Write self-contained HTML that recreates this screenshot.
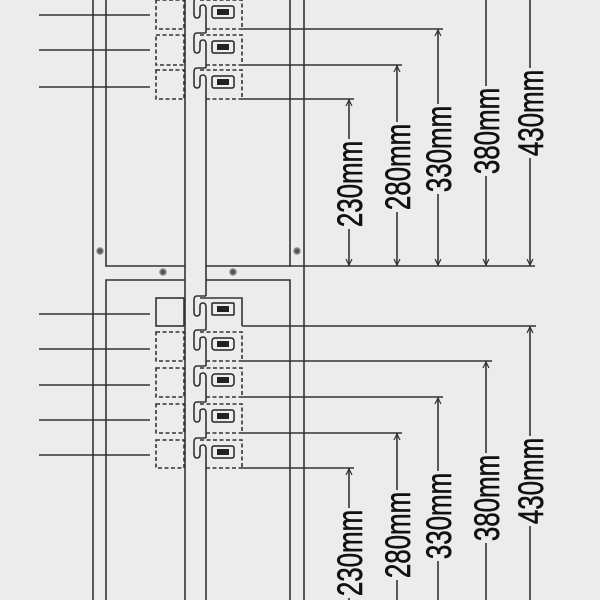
<!DOCTYPE html>
<html><head><meta charset="utf-8"><style>
html,body{margin:0;padding:0;background:#ececec;}
svg{display:block}
text{font-family:"Liberation Sans",sans-serif;font-size:35px;fill:#111;stroke:#111;stroke-width:0.6}
</style></head><body>
<svg width="600" height="600" viewBox="0 0 600 600" xmlns="http://www.w3.org/2000/svg">
<rect width="600" height="600" fill="#ececec"/>
<g stroke="#333" stroke-width="1.6" fill="none">
<line x1="93" y1="0" x2="93" y2="600"/>
<line x1="304" y1="0" x2="304" y2="600"/>
<line x1="185" y1="0" x2="185" y2="600"/>
<path d="M106,0 V266 H185"/>
<path d="M206,266 H290 V0"/>
<path d="M185,280 H106 V600"/>
<path d="M206,280 H290 V600"/>
<line x1="206" y1="9" x2="206" y2="33"/>
<line x1="206" y1="44" x2="206" y2="68"/>
<line x1="206" y1="79" x2="206" y2="296"/>
<line x1="206" y1="307" x2="206" y2="330"/>
<line x1="206" y1="341" x2="206" y2="366"/>
<line x1="206" y1="377" x2="206" y2="402"/>
<line x1="206" y1="413" x2="206" y2="438"/>
<line x1="206" y1="449" x2="206" y2="600"/>
<path d="M206,-2 L197,-2 Q194,-2 194,2 L194,14 Q194,18 197,18 Q200,18 200,14 L200,8 Q200,5 203,5 Q206,5 206,9"/>
<path d="M206,33 L197,33 Q194,33 194,37 L194,49 Q194,53 197,53 Q200,53 200,49 L200,43 Q200,40 203,40 Q206,40 206,44"/>
<path d="M206,68 L197,68 Q194,68 194,72 L194,84 Q194,88 197,88 Q200,88 200,84 L200,78 Q200,75 203,75 Q206,75 206,79"/>
<path d="M206,296 L197,296 Q194,296 194,300 L194,312 Q194,316 197,316 Q200,316 200,312 L200,306 Q200,303 203,303 Q206,303 206,307"/>
<path d="M206,330 L197,330 Q194,330 194,334 L194,346 Q194,350 197,350 Q200,350 200,346 L200,340 Q200,337 203,337 Q206,337 206,341"/>
<path d="M206,366 L197,366 Q194,366 194,370 L194,382 Q194,386 197,386 Q200,386 200,382 L200,376 Q200,373 203,373 Q206,373 206,377"/>
<path d="M206,402 L197,402 Q194,402 194,406 L194,418 Q194,422 197,422 Q200,422 200,418 L200,412 Q200,409 203,409 Q206,409 206,413"/>
<path d="M206,438 L197,438 Q194,438 194,442 L194,454 Q194,458 197,458 Q200,458 200,454 L200,448 Q200,445 203,445 Q206,445 206,449"/>
<line x1="39" y1="15" x2="150" y2="15"/>
<line x1="39" y1="50" x2="150" y2="50"/>
<line x1="39" y1="87" x2="150" y2="87"/>
<line x1="39" y1="314" x2="150" y2="314"/>
<line x1="39" y1="349" x2="150" y2="349"/>
<line x1="39" y1="385" x2="150" y2="385"/>
<line x1="39" y1="420" x2="150" y2="420"/>
<line x1="39" y1="455" x2="150" y2="455"/>
<g stroke-dasharray="4,2.5">
<rect x="156" y="0" width="28" height="29"/>
<rect x="156" y="35" width="28" height="30"/>
<rect x="156" y="70" width="28" height="29"/>
<rect x="156" y="332" width="28" height="29"/>
<rect x="156" y="368" width="28" height="29"/>
<rect x="156" y="404" width="28" height="29"/>
<rect x="156" y="440" width="28" height="28"/>
<path d="M200,0 H242 V29 M206,29 H242"/>
<path d="M200,35 H242 V65 M206,65 H242"/>
<path d="M200,70 H242 V99 M206,99 H242"/>
<path d="M200,332 H242 V361 M206,361 H242"/>
<path d="M200,368 H242 V397 M206,397 H242"/>
<path d="M200,404 H242 V433 M206,433 H242"/>
<path d="M200,440 H242 V468 M206,468 H242"/>
</g>
<rect x="156" y="298" width="28" height="28"/>
<path d="M200,298 H242 V326"/>
<line x1="242" y1="29" x2="443" y2="29"/>
<line x1="242" y1="65" x2="402" y2="65"/>
<line x1="242" y1="99" x2="354" y2="99"/>
<line x1="290" y1="266" x2="535" y2="266"/>
<line x1="242" y1="326" x2="536" y2="326"/>
<line x1="242" y1="361" x2="492" y2="361"/>
<line x1="242" y1="397" x2="443" y2="397"/>
<line x1="242" y1="433" x2="402" y2="433"/>
<line x1="242" y1="468" x2="354" y2="468"/>
<line x1="349" y1="99" x2="349" y2="266"/>
<line x1="397" y1="65" x2="397" y2="266"/>
<line x1="438" y1="29" x2="438" y2="266"/>
<line x1="486" y1="0" x2="486" y2="266"/>
<line x1="530" y1="0" x2="530" y2="266"/>
<line x1="349" y1="468" x2="349" y2="600"/>
<line x1="397" y1="433" x2="397" y2="600"/>
<line x1="438" y1="397" x2="438" y2="600"/>
<line x1="486" y1="361" x2="486" y2="600"/>
<line x1="530" y1="326" x2="530" y2="600"/>
</g>
<g stroke="#333" stroke-width="1.2" fill="none">
<path d="M346,106 L349,100 L352,106 M394,72 L397,66 L400,72 M435,36 L438,30 L441,36"/>
<path d="M346,259 L349,265 L352,259 M394,259 L397,265 L400,259 M435,259 L438,265 L441,259 M483,259 L486,265 L489,259 M527,259 L530,265 L533,259"/>
<path d="M346,475 L349,469 L352,475 M394,440 L397,434 L400,440 M435,404 L438,398 L441,404 M483,368 L486,362 L489,368 M527,333 L530,327 L533,333"/>
</g>
<g fill="#555" stroke="#888" stroke-width="1.5">
<circle cx="100" cy="251" r="3"/><circle cx="297" cy="251" r="3"/>
<circle cx="163" cy="272" r="3"/><circle cx="233" cy="272" r="3"/>
</g>
<g stroke="#222" stroke-width="1.5" fill="#eee">
<rect x="212" y="6" width="22" height="12" rx="2"/>
<rect x="212" y="41" width="22" height="12" rx="2"/>
<rect x="212" y="76" width="22" height="12" rx="2"/>
<rect x="212" y="303" width="22" height="12" rx="1"/>
<rect x="212" y="338" width="22" height="12" rx="3"/>
<rect x="212" y="374" width="22" height="12" rx="3"/>
<rect x="212" y="410" width="22" height="12" rx="2"/>
<rect x="212" y="446" width="22" height="12" rx="2"/>
</g>
<g fill="#222">
<rect x="217" y="9" width="12" height="6"/><rect x="217" y="44" width="12" height="6"/>
<rect x="217" y="79" width="12" height="6"/><rect x="217" y="306" width="12" height="6"/>
<rect x="217" y="341" width="12" height="6"/><rect x="217" y="377" width="12" height="6"/>
<rect x="217" y="413" width="12" height="6"/><rect x="217" y="449" width="12" height="6"/>
</g>
<g fill="#ececec">
<rect x="336" y="139" width="26" height="90"/>
<rect x="384" y="122" width="26" height="90"/>
<rect x="425" y="104" width="26" height="90"/>
<rect x="473" y="86" width="26" height="90"/>
<rect x="517" y="68" width="26" height="90"/>
<rect x="336" y="508" width="26" height="90"/>
<rect x="384" y="490" width="26" height="90"/>
<rect x="425" y="471" width="26" height="90"/>
<rect x="473" y="453" width="26" height="90"/>
<rect x="517" y="436" width="26" height="90"/>
</g>
<g text-anchor="middle" dominant-baseline="central">
<text transform="translate(350,184) rotate(-90) scale(0.74,1)">230mm</text>
<text transform="translate(398,167) rotate(-90) scale(0.74,1)">280mm</text>
<text transform="translate(439,149) rotate(-90) scale(0.74,1)">330mm</text>
<text transform="translate(487,131) rotate(-90) scale(0.74,1)">380mm</text>
<text transform="translate(531,113) rotate(-90) scale(0.74,1)">430mm</text>
<text transform="translate(350,553) rotate(-90) scale(0.74,1)">230mm</text>
<text transform="translate(398,535) rotate(-90) scale(0.74,1)">280mm</text>
<text transform="translate(439,516) rotate(-90) scale(0.74,1)">330mm</text>
<text transform="translate(487,498) rotate(-90) scale(0.74,1)">380mm</text>
<text transform="translate(531,481) rotate(-90) scale(0.74,1)">430mm</text>
</g>
</svg>
</body></html>
